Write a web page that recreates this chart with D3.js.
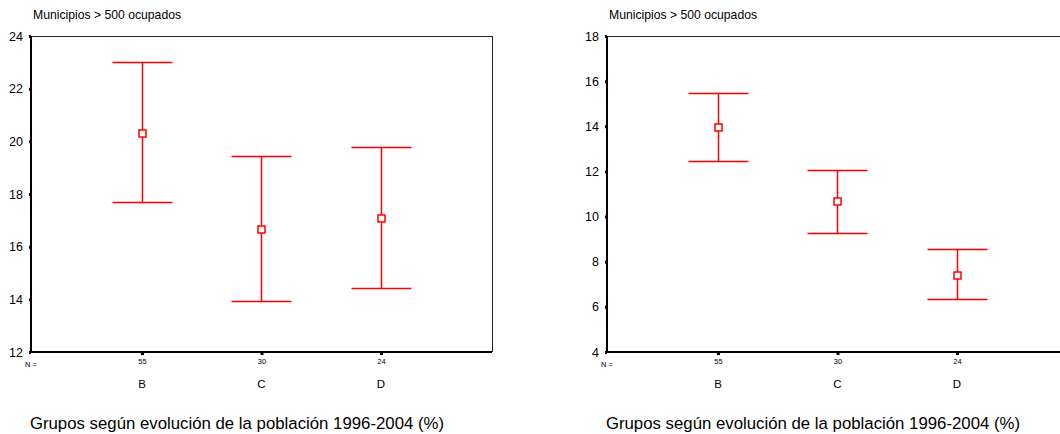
<!DOCTYPE html>
<html>
<head>
<meta charset="utf-8">
<script src="https://cdn.jsdelivr.net/npm/d3@7"></script>
<style>
  body { margin: 0; background: #fff; }
  text { font-family: "Liberation Sans", Arial, sans-serif; fill: #000; }
</style>
</head>
<body>
<svg id="chart" width="1060" height="434"></svg>
<script>
'use strict';

var GROUPS = ['B', 'C', 'D'];
var N_COUNTS = ['55', '30', '24'];

// left panel: mean and 95% CI
var leftMean = [20.30, 16.67, 17.08];
var leftLow = [17.67, 13.91, 14.40];
var leftHigh = [22.99, 19.44, 19.76];
var leftTicks = [12, 14, 16, 18, 20, 22, 24];

// right panel
var rightMean = [13.94, 10.66, 7.41];
var rightLow = [12.43, 9.24, 6.32];
var rightHigh = [15.44, 12.06, 8.56];
var rightTicks = [4, 6, 8, 10, 12, 14, 16, 18];

var TITLE = 'Municipios > 500 ocupados';
var X_TITLE = 'Grupos según evolución de la población 1996-2004 (%)';
var RED = '#ff0000';
var FONT = '"Liberation Sans", Arial, sans-serif';

var svg = d3.select('#chart');

drawPanel({left: 31, right: 492, rightBorder: true, mean: leftMean, low: leftLow, high: leftHigh, ticks: leftTicks});
drawPanel({left: 607, right: 1062, rightBorder: false, mean: rightMean, low: rightLow, high: rightHigh, ticks: rightTicks});

// snap to pixel centre so thin lines stay sharp
function crisp(v) { return Math.round(v - 0.5) + 0.5; }

function drawPanel(p) {
  var top = 36, bottom = 352;
  var g = svg.append('g');

  var y = d3.scaleLinear()
    .domain(d3.extent(p.ticks))
    .range([bottom, top]);
  var x = d3.scalePoint()
    .domain(GROUPS)
    .range([p.left + 111, p.left + 350]);

  g.append('text')
    .attr('x', p.left + 2)
    .attr('y', 19)
    .style('font-size', '12.2px')
    .text(TITLE);

  // frame: thin top/right
  g.append('line')
    .attr('x1', p.left).attr('x2', p.right)
    .attr('y1', top + 0.5).attr('y2', top + 0.5)
    .attr('stroke', '#222').attr('stroke-width', 1);
  if (p.rightBorder) {
    g.append('line')
      .attr('x1', p.right + 0.5).attr('x2', p.right + 0.5)
      .attr('y1', top).attr('y2', bottom)
      .attr('stroke', '#222').attr('stroke-width', 1);
  }

  // y axis
  var yAxis = d3.axisLeft(y)
    .tickValues(p.ticks)
    .tickSize(2)
    .tickPadding(6)
    .tickFormat(d3.format('d'));
  var ya = g.append('g')
    .attr('transform', 'translate(' + p.left + ',0)')
    .call(yAxis);
  ya.select('.domain').remove();
  ya.selectAll('.tick line').attr('stroke', '#000').attr('stroke-width', 3);
  ya.selectAll('.tick text')
    .style('font-size', '12.5px')
    .style('font-family', FONT);

  // x axis with N counts
  var xAxis = d3.axisBottom(x)
    .tickSize(3)
    .tickPadding(4)
    .tickFormat(function(d, i) { return N_COUNTS[i]; });
  var xa = g.append('g')
    .attr('transform', 'translate(0,' + bottom + ')')
    .call(xAxis);
  xa.select('.domain').remove();
  xa.selectAll('.tick line').attr('stroke', '#000').attr('stroke-width', 3);
  xa.selectAll('.tick text')
    .style('font-size', '7.5px')
    .style('font-family', FONT);

  g.append('text')
    .attr('x', p.left - 6)
    .attr('y', 367)
    .style('font-size', '7.5px')
    .text('N =');

  // thick left and bottom axis lines
  g.append('line')
    .attr('x1', p.left).attr('x2', p.left)
    .attr('y1', top).attr('y2', bottom + 1)
    .attr('stroke', '#000').attr('stroke-width', 2);
  g.append('line')
    .attr('x1', p.left - 1).attr('x2', p.right)
    .attr('y1', bottom).attr('y2', bottom)
    .attr('stroke', '#000').attr('stroke-width', 2);

  // category labels
  g.selectAll('text.cat')
    .data(GROUPS)
    .enter()
    .append('text')
    .attr('class', 'cat')
    .attr('x', function(d) { return x(d); })
    .attr('y', 388)
    .attr('text-anchor', 'middle')
    .style('font-size', '11.5px')
    .text(function(d) { return d; });

  g.append('text')
    .attr('x', p.left + 206)
    .attr('y', 429)
    .attr('text-anchor', 'middle')
    .style('font-size', '16.8px')
    .text(X_TITLE);

  // error bars
  var bars = g.selectAll('g.bar')
    .data(GROUPS)
    .enter()
    .append('g')
    .attr('class', 'bar');

  bars.append('line')
    .attr('x1', function(d) { return crisp(x(d)); })
    .attr('x2', function(d) { return crisp(x(d)); })
    .attr('y1', function(d, i) { return crisp(y(p.high[i])); })
    .attr('y2', function(d, i) { return crisp(y(p.low[i])); })
    .attr('stroke', RED).attr('stroke-width', 1.5);
  bars.append('line')
    .attr('x1', function(d) { return crisp(x(d)) - 30; })
    .attr('x2', function(d) { return crisp(x(d)) + 30; })
    .attr('y1', function(d, i) { return crisp(y(p.high[i])); })
    .attr('y2', function(d, i) { return crisp(y(p.high[i])); })
    .attr('stroke', RED).attr('stroke-width', 1.5);
  bars.append('line')
    .attr('x1', function(d) { return crisp(x(d)) - 30; })
    .attr('x2', function(d) { return crisp(x(d)) + 30; })
    .attr('y1', function(d, i) { return crisp(y(p.low[i])); })
    .attr('y2', function(d, i) { return crisp(y(p.low[i])); })
    .attr('stroke', RED).attr('stroke-width', 1.5);
  bars.append('rect')
    .attr('x', function(d) { return crisp(x(d)) - 3.5; })
    .attr('y', function(d, i) { return crisp(y(p.mean[i])) - 3.5; })
    .attr('width', 7)
    .attr('height', 7)
    .attr('fill', '#fff')
    .attr('stroke', RED).attr('stroke-width', 1.5);
}
</script>
</body>
</html>
